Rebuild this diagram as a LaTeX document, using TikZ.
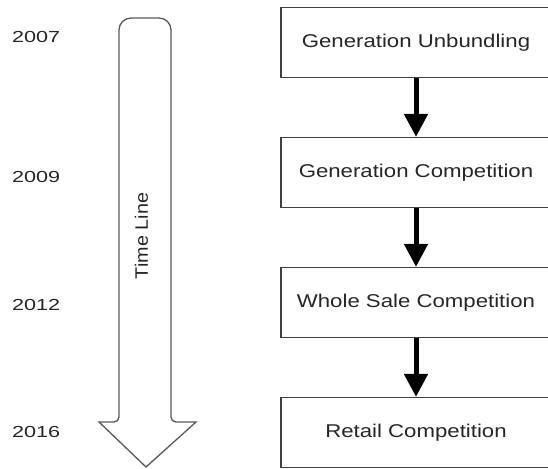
\documentclass[tikz,border=0pt]{standalone}
\usepackage{fontspec}
\setmainfont{Liberation Sans}
\newfontfamily\yearfont[FakeStretch=1.35]{Liberation Sans}
\newfontfamily\boxfont[FakeStretch=1.2]{Liberation Sans}
\newfontfamily\linefont[FakeStretch=1.1]{Liberation Sans}
\usetikzlibrary{arrows.meta}
\begin{document}
\begin{tikzpicture}[x=1pt, y=-1pt, node distance=130pt]
\tikzstyle{stage} = [rectangle, minimum width=270pt, minimum height=70pt, text centered, draw=black!75, line width=1.3pt, text=black!85, font=\boxfont\fontsize{18.5}{20}\selectfont]
\tikzstyle{year}  = [anchor=west, inner sep=0pt, text=black!85, font=\yearfont\fontsize{16}{18}\selectfont]
\tikzstyle{arrow} = [line width=5pt, -{Triangle[width=23pt, length=23pt]}]

\useasboundingbox (0,0) rectangle (548,468);

% time line
\draw [draw=black!65, line width=1.3pt, fill=white]
  (119,30) arc[start angle=180, end angle=270, radius=12] -- (159,18)
  arc[start angle=-90, end angle=0, radius=12] -- (171,417)
  arc[start angle=180, end angle=90, radius=5] -- (196,422) -- (146,467) -- (99,422) -- (114,422)
  arc[start angle=90, end angle=0, radius=5] -- cycle;
\node (timeline) [rotate=90, inner sep=0pt, text=black!85, font=\linefont\fontsize{18}{20}\selectfont] at (141.5,236) {Time Line};

\node (y2007) [year] at (12,37)  {2007};
\node (y2009) [year] at (12,177) {2009};
\node (y2012) [year] at (12,305) {2012};
\node (y2016) [year] at (12,432) {2016};

\node (unbundling) [stage] at (416,42.5)          {Generation Unbundling};
\node (gencomp)    [stage, below of=unbundling] {Generation Competition};
\node (wholesale)  [stage, below of=gencomp]    {Whole Sale Competition};
\node (retail)     [stage, below of=wholesale]  {Retail Competition};

\draw [arrow] (unbundling) -- (gencomp);
\draw [arrow] (gencomp)    -- (wholesale);
\draw [arrow] (wholesale)  -- (retail);
\end{tikzpicture}
\end{document}
